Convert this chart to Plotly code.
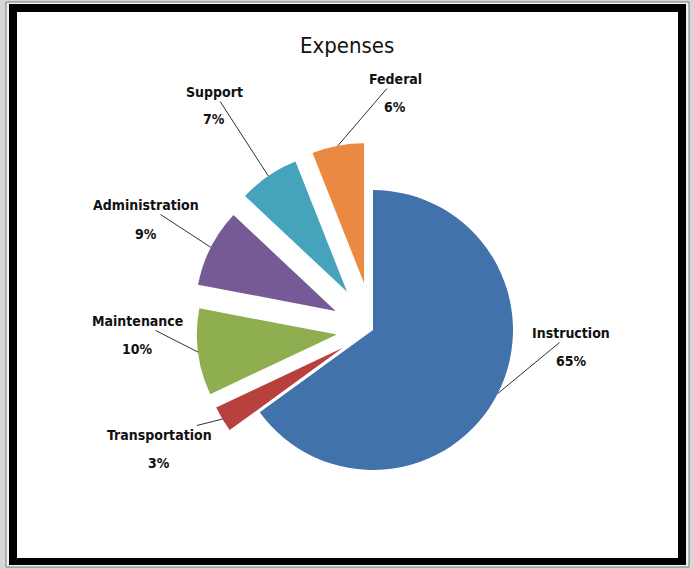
import math
import plotly.graph_objects as go

# ---- data ----
categories = ["Instruction", "Transportation", "Maintenance", "Administration", "Support", "Federal"]
percent_values = [65, 3, 10, 9, 7, 6]
percent_labels = ["65%", "3%", "10%", "9%", "7%", "6%"]

# ---- styling / layout constants ----
W, H = 694, 569
colors = ["#4272AB", "#B8403D", "#8FAE50", "#755A96", "#46A3BC", "#EA8A42"]
pulls = [0.0, 0.25, 0.26, 0.30, 0.33, 0.34]
CX, CY, R = 373, 330, 140          # pie centre / radius in pixels
label_pos = {                       # (x, y of name line, y of percent line) in pixels
    "Instruction": (571, 333, 361),
    "Transportation": (159, 435, 463),
    "Maintenance": (137, 321, 349),
    "Administration": (146, 205, 234),
    "Support": (214, 92, 119),
    "Federal": (395, 79, 107),
}
FONT = "DejaVu Sans Condensed, Liberation Sans Narrow, sans-serif"
LBL_SIZE = 14

maxpull = max(pulls)
box = 2 * R * (1 + maxpull)
dom_x = [(CX - box / 2) / W, (CX + box / 2) / W]
dom_y = [1 - (CY + box / 2) / H, 1 - (CY - box / 2) / H]

fig = go.Figure(go.Pie(
    labels=categories,
    values=percent_values,
    sort=False,
    direction="clockwise",
    rotation=0,
    pull=pulls,
    textinfo="none",
    hoverinfo="label+percent",
    marker=dict(colors=colors, line=dict(width=0)),
    domain=dict(x=dom_x, y=dom_y),
    showlegend=False,
))

# frame
shapes = [
    dict(type="rect", xref="paper", yref="paper", x0=6 / W, x1=689 / W, y0=1 - 567 / H, y1=1 - 2 / H,
         fillcolor="#f2f2f2", line=dict(color="#7a7a7a", width=1), layer="below"),
    dict(type="rect", xref="paper", yref="paper", x0=9 / W, x1=686 / W, y0=1 - 565 / H, y1=1 - 4 / H,
         fillcolor="#000000", line=dict(width=0), layer="below"),
    dict(type="rect", xref="paper", yref="paper", x0=17 / W, x1=678 / W, y0=1 - 558 / H, y1=1 - 12 / H,
         fillcolor="#ffffff", line=dict(width=0), layer="below"),
]

# labels with leader lines, tips computed from the slice geometry
annotations = []
total = sum(percent_values)
cum = 0
for name, val, pct, pl in zip(categories, percent_values, percent_labels, pulls):
    mid = (cum + val / 2) / total * 2 * math.pi
    cum += val
    sx, sy = math.sin(mid), -math.cos(mid)
    tipx = CX + pl * R * sx + R * sx
    tipy = CY + pl * R * sy + R * sy
    lx, ly, py = label_pos[name]
    annotations.append(dict(
        x=tipx / W, y=1 - tipy / H, xref="paper", yref="paper",
        text=name, showarrow=True, arrowhead=0, arrowwidth=1, arrowcolor="#303030",
        ax=lx - tipx, ay=ly - tipy, standoff=0,
        font=dict(family=FONT, size=LBL_SIZE, color="#111111", weight="bold"),
    ))
    annotations.append(dict(
        x=lx / W, y=1 - py / H, xref="paper", yref="paper", showarrow=False,
        text=pct, xanchor="center", yanchor="middle",
        font=dict(family=FONT, size=LBL_SIZE, color="#111111", weight="bold"),
    ))

annotations.append(dict(
    x=347 / W, y=1 - 46 / H, xref="paper", yref="paper", showarrow=False,
    text="Expenses", xanchor="center", yanchor="middle",
    font=dict(family=FONT, size=22, color="#111111"),
))

fig.update_layout(
    width=W, height=H,
    margin=dict(l=0, r=0, t=0, b=0),
    paper_bgcolor="#d6d6d6",
    plot_bgcolor="#ffffff",
    shapes=shapes,
    annotations=annotations,
)

fig.write_html(
    "out.html",
    config={"displayModeBar": False},
    post_script="document.body.style.margin='0';document.body.style.padding='0';document.body.style.overflow='hidden';",
)
